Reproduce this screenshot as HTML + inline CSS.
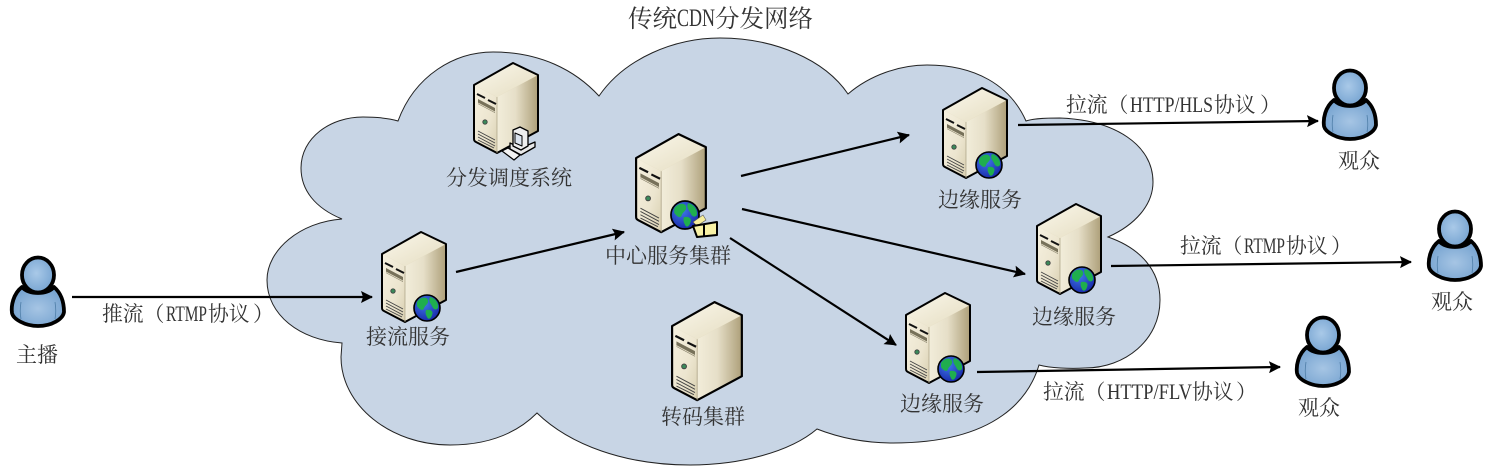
<!DOCTYPE html>
<html><head><meta charset="utf-8"><style>
html,body{margin:0;padding:0;background:#fff}
svg{display:block}
text{font-family:"Liberation Serif","Noto Serif CJK SC",serif;font-size:21px;fill:#333}
text.l{font-size:20.8px}
text.m{font-size:22px}
</style></head><body>
<svg xmlns="http://www.w3.org/2000/svg" width="1489" height="470" viewBox="0 0 1489 470">
<defs>
<linearGradient id="fr" x1="0" y1="0" x2="1" y2="1"><stop offset="0" stop-color="#f6f1e0"/><stop offset=".6" stop-color="#ece5cf"/><stop offset="1" stop-color="#d8cfb0"/></linearGradient>
<linearGradient id="rt" x1="0" y1="0" x2="1" y2="0"><stop offset="0" stop-color="#f2edda"/><stop offset=".45" stop-color="#e6dfc8"/><stop offset="1" stop-color="#ad9f79"/></linearGradient>
<linearGradient id="tp" x1="0" y1="0" x2="1" y2="1"><stop offset="0" stop-color="#fbf8ec"/><stop offset="1" stop-color="#e4dcc0"/></linearGradient>
<radialGradient id="gb" cx=".4" cy=".35" r=".7"><stop offset="0" stop-color="#3f78e8"/><stop offset="1" stop-color="#1726a8"/></radialGradient>
<radialGradient id="pb" cx=".5" cy=".55" r=".65"><stop offset="0" stop-color="#a6c5e4"/><stop offset="1" stop-color="#6f9ecd"/></radialGradient>
<radialGradient id="ph" cx=".45" cy=".45" r=".65"><stop offset="0" stop-color="#a9c9e8"/><stop offset="1" stop-color="#709fce"/></radialGradient>
<marker id="a" markerUnits="userSpaceOnUse" markerWidth="14" markerHeight="14" refX="11" refY="6" orient="auto"><path d="M0,0L12,6L0,12L2,6Z" fill="#000"/></marker>
<g id="srv">
<path d="M40,1L65,13V69L24,91L3,80L1,23Z" fill="#d8cfb0"/>
<path d="M24,35L65,13V69L24,91Z" fill="url(#rt)"/>
<path d="M1,23L24,35V91L3,80C1,79 1,78 1,76Z" fill="url(#fr)"/>
<path d="M1,23L40,1L65,13L24,35Z" fill="url(#tp)"/>
<path d="M1,23L40,1L65,13V69L24,91L3,80C1,79 1,78 1,76Z" fill="none" stroke="#000" stroke-width="2" stroke-linejoin="round"/>
<path d="M24,35V91" stroke="#a89f82" stroke-width=".7"/>
<path d="M4,32L12,36M15,38L23,42" stroke="#111" stroke-width="2"/>
<path d="M5,37L22,46V51L5,42Z" fill="#77715a"/>
<path d="M5,41L22,50" stroke="#e4ddc6" stroke-width=".9"/>
<circle cx="12" cy="60" r="2.2" fill="#3a8a5a" stroke="#444" stroke-width=".9"/>
<path d="M5,69L22,78M5,72L22,81M5,75L22,84M5,78L21,86" stroke="#444" stroke-width=".9"/>
</g>
<g id="gl">
<circle r="13" fill="url(#gb)" stroke="#000" stroke-width="1.6"/>
<path d="M-10,-6C-6,-12 0,-11 1,-8C2,-4 -2,-3 -3,0C-4,4 -8,1 -10,-2Z M3,-11C8,-10 12,-5 11,0C9,3 6,1 5,-2C3,-5 1,-8 3,-11Z M-1,2C3,1 7,3 5,7C4,11 1,12 0,9C-1,7 -2,5 -1,2Z" fill="#1fae4e"/>
</g>
<g id="per">
<path d="M12,31C3,38 1,50 2,57C3,63 15,70 28,70C42,70 53,63 54,56C54,48 52,38 44,31C38,39 18,39 12,31Z" fill="url(#pb)" stroke="#000" stroke-width="3.8" stroke-linejoin="round"/>
<ellipse cx="28" cy="19" rx="16" ry="17.5" fill="url(#ph)" stroke="#000" stroke-width="3.8"/>
<path d="M11,46C10,52 10,58 11,63M45,46C46,52 46,58 45,63" fill="none" stroke="#4f7ea8" stroke-width=".8"/>
</g>
</defs>

<path d="M398,121C415,75 455,52 493,52C540,52 575,70 599,96C625,58 675,38 720,38C775,38 825,60 848,94C870,75 900,65 927,65C975,65 1010,85 1026,121C1035,118 1050,118 1060,118C1115,120 1153,145 1153,182C1153,205 1135,225 1108,237C1140,248 1160,270 1160,300C1160,340 1125,368 1085,368C1070,369 1050,368 1039,365C1030,395 1000,443 893,443C865,443 840,438 817,429C790,452 740,465 690,465C625,465 570,445 537,413C515,435 485,445 450,445C390,445 341,405 341,357L342,343C300,340 267,315 267,280C267,250 300,222 342,219C315,208 301,190 301,168C301,138 330,117 363,117C375,117 388,118 398,121Z" fill="#c8d5e5" stroke="#222" stroke-width="1"/>

<use href="#srv" x="473" y="62"/>
<g stroke="#000" stroke-linejoin="round">
<path d="M510,143L521,148L535,142V147L521,155L510,149Z" fill="#e8e8e8" stroke-width="1.3"/>
<path d="M513,130L520,127L528,131V146L521,150L513,146Z" fill="#eeeeee" stroke-width="1.3"/>
<path d="M515,133L522,136V146L515,143Z" fill="#dbe3ee" stroke-width="1"/>
<path d="M502,151L508,148L520,155L514,160Z" fill="#f2f2f2" stroke-width="1.2"/>
</g>
<use href="#srv" x="381" y="231"/>
<use href="#gl" x="427" y="308"/>
<g transform="translate(635,133) scale(1.09)"><use href="#srv"/></g>
<use href="#gl" transform="translate(685,215) scale(1.08)"/>
<path d="M693,222L703,215L706,220L697,226Z" fill="#f6ee9c" stroke="#555" stroke-width=".6"/>
<path d="M693,226L717,222V235L697,237Z" fill="#f8f2a6" stroke="#000" stroke-width="2" stroke-linejoin="round"/>
<path d="M704,224V236" stroke="#000" stroke-width="2"/>
<use href="#srv" x="942" y="87"/><use href="#gl" x="989" y="165"/>
<use href="#srv" x="1036" y="203"/><use href="#gl" x="1082" y="280"/>
<use href="#srv" x="905" y="292"/><use href="#gl" x="951" y="369"/>
<g transform="translate(671,301) scale(1.09)"><use href="#srv"/></g>

<use href="#per" x="10" y="256"/>
<use href="#per" x="1322" y="69"/>
<use href="#per" x="1427" y="210"/>
<use href="#per" x="1295" y="316"/>

<g fill="none" stroke="#000" stroke-width="2.2">
<path d="M72,297L372,297" marker-end="url(#a)"/>
<path d="M456,272L624,232" marker-end="url(#a)"/>
<path d="M741,176L909,135" marker-end="url(#a)"/>
<path d="M742,209L1025,274" marker-end="url(#a)"/>
<path d="M730,238L896,345" marker-end="url(#a)"/>
<path d="M1018,125L1318,121" marker-end="url(#a)"/>
<path d="M1111,266L1411,262" marker-end="url(#a)"/>
<path d="M977,372L1280,367" marker-end="url(#a)"/>
</g>

<text x="628" y="27" style="font-size:24.5px">传统</text>
<text x="677" y="26" style="font-size:25px" textLength="38" lengthAdjust="spacingAndGlyphs">CDN</text>
<text x="715" y="27" style="font-size:24.5px">分发网络</text>
<text x="446" y="185">分发调度系统</text>
<text x="605" y="263">中心服务集群</text>
<text x="366" y="344">接流服务</text>
<text x="661" y="424">转码集群</text>
<text x="938" y="207">边缘服务</text>
<text x="1032" y="324">边缘服务</text>
<text x="900" y="411">边缘服务</text>
<text x="16" y="362">主播</text>
<text x="1338" y="168">观众</text>
<text x="1431" y="309">观众</text>
<text x="1298" y="415">观众</text>

<text class="l" x="102" y="321">推流（</text>
<text class="m" x="166" y="321" textLength="41" lengthAdjust="spacingAndGlyphs">RTMP</text>
<text class="l" x="208" y="321">协议</text>
<text class="l" x="253" y="321">）</text>

<text class="l" x="1066" y="112">拉流（</text>
<text class="m" x="1130" y="112" textLength="83" lengthAdjust="spacingAndGlyphs">HTTP/HLS</text>
<text class="l" x="1214" y="112">协议</text>
<text class="l" x="1260" y="112">）</text>

<text class="l" x="1180" y="253">拉流（</text>
<text class="m" x="1244" y="253" textLength="41" lengthAdjust="spacingAndGlyphs">RTMP</text>
<text class="l" x="1286" y="253">协议</text>
<text class="l" x="1331" y="253">）</text>

<text class="l" x="1043" y="399">拉流（</text>
<text class="m" x="1107" y="399" textLength="85" lengthAdjust="spacingAndGlyphs">HTTP/FLV</text>
<text class="l" x="1192" y="399">协议</text>
<text class="l" x="1236" y="399">）</text>
</svg>
</body></html>
